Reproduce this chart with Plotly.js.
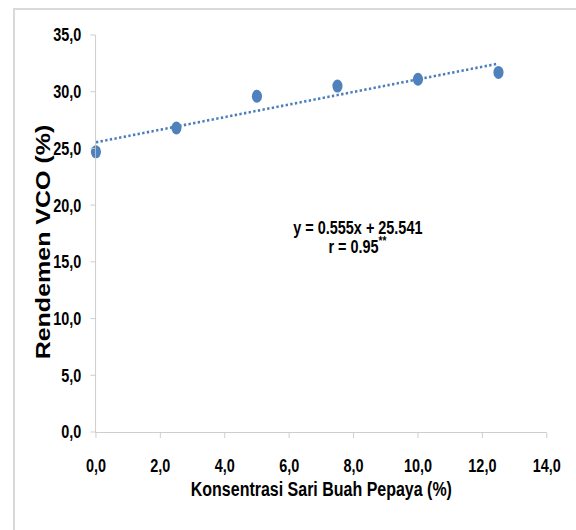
<!DOCTYPE html>
<html>
<head>
<meta charset="utf-8">
<script src="https://cdn.plot.ly/plotly-3.0.1.min.js"></script>
<style>
html,body{margin:0;padding:0;background:#fff;}
#wrap{position:relative;width:576px;height:530px;overflow:hidden;}
#frame{position:absolute;left:13px;top:8px;width:600px;height:600px;border-left:2px solid #d9d9d9;border-top:2px solid #d9d9d9;}
#chart{position:absolute;left:0;top:0;width:738px;height:530px;transform:scaleX(0.78);transform-origin:0 0;}
</style>
</head>
<body>
<div id="wrap"><div id="frame"></div><div id="chart"></div></div>
<script>
var concentration = [0, 2.5, 5, 7.5, 10, 12.5];
var yieldVCO = [24.7, 26.8, 29.6, 30.5, 31.1, 31.7];
var trendX = [0, 12.5];
var trendY = [25.54, 32.48];
var xTickVals = [0, 2, 4, 6, 8, 10, 12, 14];
var xTickText = ["0,0","2,0","4,0","6,0","8,0","10,0","12,0","14,0"];
var yTickVals = [0, 5, 10, 15, 20, 25, 30, 35];
var yTickText = ["0,0","5,0","10,0","15,0","20,0","25,0","30,0","35,0"];

var fam = "'Liberation Sans', Arial, sans-serif";
function bf(size) { return {family: fam, size: size, color: '#000', weight: 'bold'}; }

var traces = [
  {x: trendX, y: trendY, mode: 'lines', type: 'scatter',
   line: {color: '#4a7ebb', width: 2.6, dash: 'dot'}, hoverinfo: 'skip', showlegend: false, cliponaxis: false},
  {x: concentration, y: yieldVCO, mode: 'markers', type: 'scatter',
   marker: {color: '#4f81bd', size: 13}, showlegend: false, cliponaxis: false}
];

var axisCommon = {
  showgrid: false, zeroline: false, showline: true, linecolor: '#c8c8c8', linewidth: 1,
  ticks: 'outside', ticklen: 5, tickcolor: '#c8c8c8', tickwidth: 1,
  tickfont: bf(18.5)
};

var layout = {
  width: 738, height: 530,
  paper_bgcolor: 'rgba(0,0,0,0)', plot_bgcolor: 'rgba(0,0,0,0)',
  margin: {l: 123, r: 37, t: 35, b: 98},
  xaxis: Object.assign({}, axisCommon, {
    range: [0, 14], tickmode: 'array', tickvals: xTickVals, ticktext: xTickText,
    ticklabelstandoff: 12,
    title: {text: 'Konsentrasi Sari Buah Pepaya (%)', font: bf(20.5), standoff: 6}
  }),
  yaxis: Object.assign({}, axisCommon, {
    range: [0, 35], tickmode: 'array', tickvals: yTickVals, ticktext: yTickText,
    ticklen: 6, ticklabelstandoff: 8
  }),
  annotations: [
    {xref: 'paper', yref: 'paper', x: -0.116, y: 0.48, xanchor: 'center', yanchor: 'middle',
     text: 'Rendemen VCO (%)', textangle: -90, showarrow: false, font: bf(25)},
    {xref: 'x', yref: 'y', x: 8.13, y: 18.07, text: 'y = 0.555x + 25.541', showarrow: false, font: bf(18.5)},
    {xref: 'x', yref: 'y', x: 8.13, y: 16.45, text: 'r = 0.95<sup>**</sup>', showarrow: false, font: bf(18.5)}
  ]
};

Plotly.newPlot('chart', traces, layout, {displayModeBar: false, staticPlot: true});
</script>
</body>
</html>
